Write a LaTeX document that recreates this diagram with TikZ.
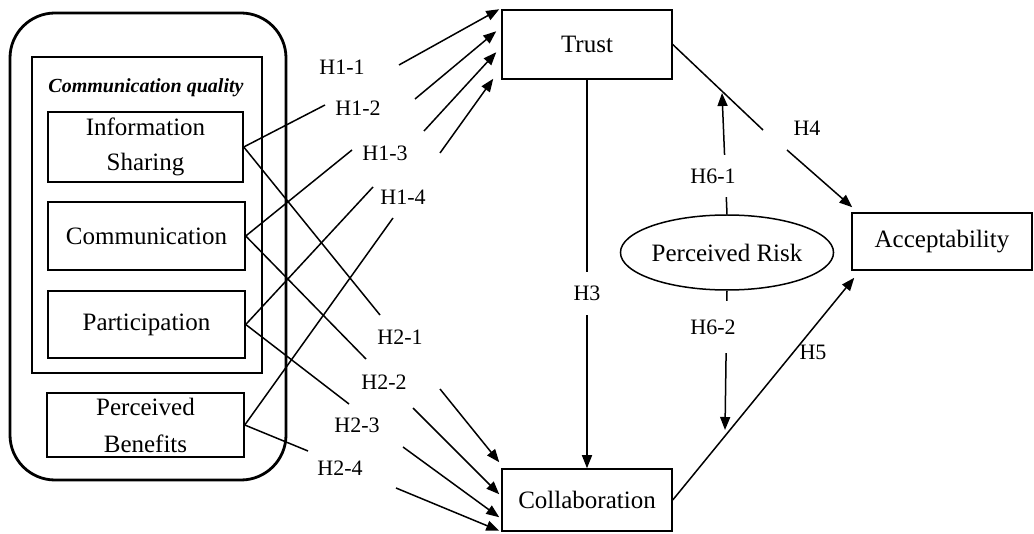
\documentclass[tikz,border=0pt]{standalone}
\usepackage{fontspec}
\setmainfont{Liberation Serif}
\usetikzlibrary{arrows.meta,shapes.geometric,calc}
\begin{document}
\begin{tikzpicture}[x=1pt,y=-1pt,
  box/.style={draw,line width=1.5pt,inner sep=0pt,align=center,font=\fontsize{25}{35}\selectfont},
  lbl/.style={inner sep=1pt,font=\fontsize{22}{24}\selectfont},
  ln/.style={line width=1.5pt},
  arr/.style={line width=1.5pt,-{Triangle[length=13pt,width=10pt]}},
  gaplbl/.style={lbl,fill=white,inner xsep=2pt}
]
\useasboundingbox (0,0) rectangle (1034,534);

% group containers
\node[draw,line width=2.8pt,rounded corners=45pt,minimum width=276pt,minimum height=467pt,inner sep=0pt] (grp) at (148,246.5) {};
\node[draw,line width=1.5pt,minimum width=230pt,minimum height=316pt,inner sep=0pt] (cq) at (147,215) {};
\node[inner sep=0pt,font=\fontsize{20}{22}\selectfont\bfseries\itshape] (cqt) at (146,88) {Communication quality};

% boxes
\node[box,minimum width=195pt,minimum height=70pt] (info) at (145.5,147) {Information\\Sharing};
\node[box,minimum width=197pt,minimum height=68pt] (comm) at (146.5,236) {Communication};
\node[box,minimum width=197pt,minimum height=67pt] (part) at (146.5,324.5) {Participation};
\node[box,minimum width=197pt,minimum height=64pt,font=\fontsize{25}{37}\selectfont] (pb) at (145.5,425) {Perceived\\Benefits};
\node[box,minimum width=170pt,minimum height=69pt] (trust) at (587,44.5) {Trust};
\node[box,minimum width=170pt,minimum height=62pt] (coll) at (587,500) {Collaboration};
\node[box,minimum width=180pt,minimum height=57pt] (acc) at (942,241.5) {Acceptability};
\node[box,ellipse,minimum width=208pt,minimum height=75pt] (risk) at (727,252.5) {Perceived Risk};

% free ends
\coordinate (a1) at (325,105);
\coordinate (a2) at (352,150);
\coordinate (a3) at (373,187);
\coordinate (a4) at (393,218);
\coordinate (s1) at (399,65);
\coordinate (s2) at (415,99);
\coordinate (s3) at (424,131);
\coordinate (s4) at (440,153);
\coordinate (b1) at (380,315);
\coordinate (b2) at (366,359);
\coordinate (b3) at (349,404);
\coordinate (b4) at (308,451);
\coordinate (t1) at (440,389);
\coordinate (t2) at (413,408);
\coordinate (t3) at (403,447);
\coordinate (t4) at (396,488);
\coordinate (h4a) at (763,130);
\coordinate (h4b) at (787,150);
\coordinate (m1) at (722,93);
\coordinate (m2) at (725,430);

% H1 lines
\draw[ln] (info.east) -- (a1);
\draw[ln] (comm.east) -- (a2);
\draw[ln] (part.east) -- (a3);
\draw[ln] (pb.east) -- (a4);
\draw[arr] (s1) -- ($(trust.north west)+(-2,0)$);
\draw[arr] (s2) -- ($(trust.north west)+(-5,22)$);
\draw[arr] (s3) -- ($(trust.north west)+(-5,43)$);
\draw[arr] (s4) -- ($(trust.south west)+(-8,-1)$);
\node[lbl] (h11) at (342,67) {H1-1};
\node[lbl] (h12) at (358,108) {H1-2};
\node[lbl] (h13) at (385,153) {H1-3};
\node[lbl] (h14) at (403,197) {H1-4};

% H2 lines
\draw[ln] (info.east) -- (b1);
\draw[ln] (comm.east) -- (b2);
\draw[ln] (part.east) -- (b3);
\draw[ln] (pb.east) -- (b4);
\draw[arr] (t1) -- ($(coll.north west)+(-2,-6)$);
\draw[arr] (t2) -- ($(coll.north west)+(-2,26)$);
\draw[arr] (t3) -- ($(coll.north west)+(-2,49)$);
\draw[arr] (t4) -- ($(coll.south west)+(-2,-1)$);
\node[lbl] (h21) at (400,337) {H2-1};
\node[lbl] (h22) at (384,382) {H2-2};
\node[lbl] (h23) at (357,425) {H2-3};
\node[lbl] (h24) at (340,468) {H2-4};

% right part
\draw[arr] (trust.south) -- (coll.north) node[gaplbl,pos=0.55,inner ysep=14pt] (h3) {H3};
\draw[ln] (trust.east) -- (h4a);
\draw[arr] (h4b) -- ($(acc.north west)+(1,-5)$);
\node[lbl] (h4) at (807,128) {H4};
\draw[arr] (coll.east) -- ($(acc.south west)+(3,7)$);
\node[lbl] (h5) at (813,352) {H5};
\draw[arr] (risk.north) -- (m1);
\node[gaplbl,inner ysep=14pt] (h61) at (713,176) {H6-1};
\draw[arr] (risk.south) -- (m2);
\node[gaplbl,inner ysep=19pt] (h62) at (713,327) {H6-2};
\end{tikzpicture}
\end{document}
